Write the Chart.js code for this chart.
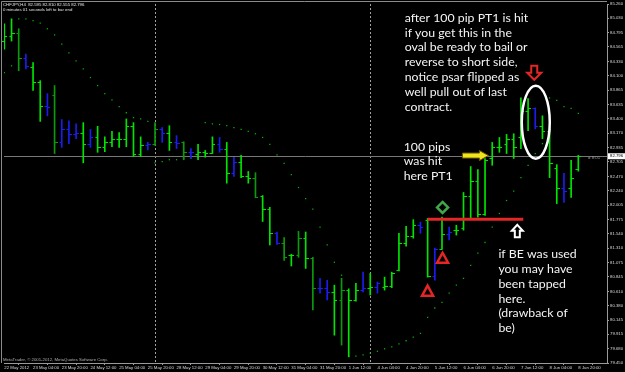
<!DOCTYPE html>
<html>
<head>
<meta charset="utf-8">
<script src="https://cdn.jsdelivr.net/npm/chart.js@4"></script>
<style>
  html, body { margin: 0; padding: 0; background: #000; }
  canvas { display: block; }
</style>
</head>
<body>
<canvas id="chart" width="625" height="372"></canvas>
<script>
// CHFJPY H4, one entry per bar, 22 May 2012 12:00 .. 8 Jun 2012 20:00
const opens = [
  84.66, 84.74, 84.79, 84.39, 84.24, 83.99, 83.61, 83.78, 83.02, 83.23,
  83.15, 83.18, 83.00, 83.10, 82.95, 83.02, 83.07, 83.08, 83.28, 82.84,
  82.97, 83.00, 83.24, 83.18, 83.02, 83.02, 82.87, 82.84, 82.86, 82.85,
  83.00, 82.92, 82.53, 82.71, 82.47, 82.44, 82.15, 81.95, 81.55, 81.40,
  81.19, 81.19, 81.47, 81.15, 80.66, 80.66, 80.60, 80.47, 80.63, 80.47,
  80.63, 80.66, 80.68, 80.68, 80.69, 80.95, 81.39, 81.50, 81.68, 81.76,
  80.85, 81.30, 81.53, 81.60, 81.63, 82.16, 82.40, 81.86, 82.76, 82.94,
  83.00, 83.08, 83.10, 83.53, 83.57, 83.28, 83.21, 82.60, 82.28, 82.28,
  82.595
];
const highs = [
  84.94, 85.02, 84.86, 84.45, 84.31, 84.02, 83.81, 83.94, 83.39, 83.37,
  83.32, 83.34, 83.23, 83.28, 83.11, 83.20, 83.18, 83.40, 83.34, 83.11,
  83.02, 83.34, 83.26, 83.29, 83.13, 83.03, 82.92, 82.99, 82.89, 83.11,
  83.10, 83.02, 82.78, 82.81, 82.55, 82.53, 82.16, 81.97, 81.57, 81.48,
  81.21, 81.58, 81.57, 81.16, 80.82, 80.79, 80.71, 80.82, 80.65, 80.74,
  80.92, 80.90, 80.76, 80.84, 80.92, 81.55, 81.66, 81.77, 81.73, 81.79,
  81.31, 81.81, 81.65, 81.68, 82.21, 82.63, 82.58, 82.76, 83.02, 83.10,
  83.15, 83.16, 83.74, 83.73, 83.58, 83.45, 83.26, 82.66, 82.52, 82.73,
  82.81
];
const lows = [
  84.53, 84.66, 84.18, 84.21, 83.86, 83.36, 83.45, 82.84, 82.94, 83.00,
  83.08, 82.69, 82.94, 82.86, 82.87, 82.95, 82.94, 82.95, 82.79, 82.79,
  82.90, 82.97, 83.02, 82.89, 82.92, 82.74, 82.76, 82.74, 82.78, 82.84,
  82.86, 82.36, 82.47, 82.45, 82.36, 82.13, 81.74, 81.36, 81.37, 81.11,
  81.02, 81.16, 80.98, 80.31, 80.58, 80.47, 79.90, 79.74, 79.55, 80.45,
  80.60, 80.55, 80.58, 80.63, 80.67, 80.94, 81.34, 81.47, 81.55, 80.84,
  80.79, 81.29, 81.44, 81.52, 81.60, 81.79, 81.81, 81.84, 82.65, 82.86,
  82.84, 82.76, 82.92, 83.21, 83.24, 83.08, 82.45, 82.03, 82.05, 82.13,
  82.555
];
const closes = [
  84.74, 84.79, 84.39, 84.26, 83.99, 83.61, 83.60, 83.02, 83.23, 83.15,
  83.18, 83.00, 83.10, 82.95, 83.02, 83.07, 83.08, 83.28, 82.84, 82.97,
  82.99, 83.24, 83.18, 83.02, 83.01, 82.87, 82.86, 82.86, 82.85, 83.00,
  82.92, 82.53, 82.71, 82.47, 82.45, 82.14, 81.95, 81.55, 81.40, 81.16,
  81.19, 81.47, 81.15, 80.66, 80.66, 80.60, 80.47, 80.63, 80.47, 80.63,
  80.66, 80.68, 80.74, 80.69, 80.90, 81.39, 81.50, 81.68, 81.65, 80.85,
  81.30, 81.53, 81.57, 81.60, 82.15, 82.40, 81.86, 82.74, 82.94, 82.94,
  83.08, 82.94, 83.53, 83.57, 83.28, 83.21, 82.69, 82.28, 82.24, 82.45,
  82.796
];
// parabolic SAR, one dot per bar
const psar = [
  84.15, 84.26, 85.02, 85.02, 84.99, 84.95, 84.86, 84.76, 84.61, 84.47,
  84.34, 84.21, 84.07, 83.94, 83.81, 83.71, 83.60, 83.50, 83.42, 83.40,
  83.36, 82.69, 82.71, 82.74, 82.74, 82.76, 82.76, 82.78, 83.34, 83.32,
  83.31, 83.29, 83.26, 83.23, 83.20, 83.16, 83.10, 82.99, 82.82, 82.68,
  82.50, 82.29, 82.11, 81.94, 81.65, 81.36, 81.08, 80.87, 79.56, 79.56,
  79.58, 79.61, 79.64, 79.68, 79.71, 79.76, 79.81, 79.87, 79.93, 80.19,
  80.34, 80.43, 80.58, 80.71, 80.82, 81.03, 81.23, 81.40, 81.65, 81.87,
  82.08, 82.23, 82.45, 82.65, 82.84, 83.00, 83.74, 83.70, 83.60, 83.57,
  83.49
];
const tickBars = [0, 4, 8, 12, 16, 20, 24, 28, 32, 36, 40, 44, 48, 52, 56, 60, 64, 68, 72, 76, 80];
const timeLabels = [
  '22 May 2012', '23 May 04:00', '23 May 20:00', '24 May 12:00', '25 May 04:00',
  '25 May 20:00', '28 May 12:00', '29 May 04:00', '29 May 20:00', '30 May 12:00',
  '31 May 04:00', '31 May 20:00', '1 Jun 12:00', '4 Jun 04:00', '4 Jun 20:00',
  '5 Jun 12:00', '6 Jun 04:00', '6 Jun 20:00', '7 Jun 12:00', '8 Jun 04:00', '8 Jun 20:00'
];
const priceTicks = [
  79.450, 79.680, 79.915, 80.145, 80.380, 80.610, 80.845, 81.075, 81.310,
  81.540, 81.775, 82.005, 82.240, 82.470, 82.705, 82.935, 83.170, 83.400,
  83.635, 83.865, 84.100, 84.330, 84.565, 84.795, 85.030, 85.260
];
const weekStarts = [21, 51];
const lastPrice = 82.796;

// bar colours as the terminal painted them
const blueBars = [3, 6, 8, 9, 10, 12, 20, 22, 24, 26, 30, 32, 38, 44, 45, 50, 52, 58, 60, 62, 74, 78];
const dimBars = [2, 7, 21, 25, 35, 39, 41, 43, 47];
const barColor = k => blueBars.includes(k) ? '#1c1cf0' : dimBars.includes(k) ? '#0b9a0b' : '#00e400';

const tiny = { family: 'Liberation Sans', size: 4.3 };

const ohlcTicks = {
  id: 'ohlcTicks',
  beforeDatasetsDraw(chart) {
    const { ctx, chartArea: a, scales: { x, y } } = chart;
    ctx.save();
    ctx.strokeStyle = '#a0a0a0';
    ctx.lineWidth = 1;
    ctx.setLineDash([2, 2]);
    weekStarts.forEach(k => {
      const px = Math.round(x.getPixelForValue(k)) + 0.5;
      ctx.beginPath(); ctx.moveTo(px, a.top); ctx.lineTo(px, a.bottom); ctx.stroke();
    });
    ctx.setLineDash([]);
    const py = Math.round(y.getPixelForValue(lastPrice)) + 0.5;
    ctx.strokeStyle = '#777';
    ctx.beginPath(); ctx.moveTo(a.left, py); ctx.lineTo(a.right, py); ctx.stroke();
    // chart frame
    ctx.strokeStyle = '#8a8a8a';
    ctx.beginPath(); ctx.moveTo(1.5, a.bottom); ctx.lineTo(1.5, 1.5); ctx.lineTo(a.right, 1.5); ctx.stroke();
    ctx.restore();
  },
  afterDatasetsDraw(chart) {
    const { ctx, scales: { x, y } } = chart;
    ctx.save();
    ctx.lineWidth = 1;
    opens.forEach((o, k) => {
      const px = Math.round(x.getPixelForValue(k));
      const yo = Math.round(y.getPixelForValue(o)) + 0.5;
      const yc = Math.round(y.getPixelForValue(closes[k])) + 0.5;
      ctx.strokeStyle = barColor(k);
      ctx.beginPath();
      ctx.moveTo(px - 2.5, yo); ctx.lineTo(px, yo);
      ctx.moveTo(px, yc); ctx.lineTo(px + 3, yc);
      ctx.stroke();
    });
    ctx.restore();
  }
};

// hand-drawn markup on the screenshot, anchored at (bar, price)
const notes = [
  { k: 55.8, p: 85.035, lines: ['after 100 pip PT1 is hit', 'if you get this in the', 'oval be ready to bail or',
      'reverse to short side,', 'notice psar flipped as', 'well pull out of last', 'contract.'] },
  { k: 55.66, p: 82.953, lines: ['100 pips', 'was hit', 'here PT1'] },
  { k: 68.86, p: 81.209, lines: ['if BE was used', 'you may have', 'been tapped', 'here.', '(drawback of', 'be)'] }
];

const markup = {
  id: 'markup',
  afterDatasetsDraw(chart) {
    const { ctx, scales: { x, y } } = chart;
    const P = (k, p) => [x.getPixelForValue(k), y.getPixelForValue(p)];
    ctx.save();
    ctx.fillStyle = '#f4f4f4';
    ctx.font = '12.3px Lato';
    ctx.textBaseline = 'middle';
    notes.forEach(n => {
      const [tx, ty] = P(n.k, n.p);
      n.lines.forEach((t, i) => ctx.fillText(t, tx, ty + i * 14.8));
    });

    // breakeven line
    ctx.strokeStyle = '#e42626';
    ctx.lineWidth = 3;
    let [x1, ly] = P(58.99, 81.775), [x2] = P(72.33, 81.775);
    ctx.beginPath(); ctx.moveTo(x1, ly); ctx.lineTo(x2, ly); ctx.stroke();

    // triangles
    ctx.lineWidth = 2.5;
    ctx.lineJoin = 'miter';
    [[61.08, 81.145], [58.99, 80.612]].forEach(([k, p]) => {
      const [cx, cy] = P(k, p);
      ctx.beginPath();
      ctx.moveTo(cx, cy - 5.5); ctx.lineTo(cx + 5.5, cy + 4.5); ctx.lineTo(cx - 5.5, cy + 4.5); ctx.closePath();
      ctx.stroke();
    });

    // diamond
    let [cx, cy] = P(61.08, 81.968);
    ctx.strokeStyle = '#3ea84a';
    ctx.beginPath();
    ctx.moveTo(cx, cy - 5.5); ctx.lineTo(cx + 5.5, cy); ctx.lineTo(cx, cy + 5.5); ctx.lineTo(cx - 5.5, cy); ctx.closePath();
    ctx.stroke();

    // white up arrow
    [cx, cy] = P(71.5, 81.581);
    ctx.strokeStyle = '#ffffff';
    ctx.lineWidth = 2;
    ctx.beginPath();
    ctx.moveTo(cx, cy - 6.5); ctx.lineTo(cx + 5.5, cy - 0.5); ctx.lineTo(cx + 2.5, cy - 0.5);
    ctx.lineTo(cx + 2.5, cy + 6); ctx.lineTo(cx - 2.5, cy + 6); ctx.lineTo(cx - 2.5, cy - 0.5);
    ctx.lineTo(cx - 5.5, cy - 0.5); ctx.closePath();
    ctx.stroke();

    // red down arrow
    [cx, cy] = P(73.86, 84.147);
    ctx.strokeStyle = '#e42626';
    ctx.beginPath();
    ctx.moveTo(cx - 3, cy - 7); ctx.lineTo(cx + 3, cy - 7); ctx.lineTo(cx + 3, cy);
    ctx.lineTo(cx + 7, cy); ctx.lineTo(cx, cy + 7); ctx.lineTo(cx - 7, cy); ctx.lineTo(cx - 3, cy); ctx.closePath();
    ctx.stroke();

    // yellow right arrow
    [cx, cy] = P(65.66, 82.807);
    ctx.fillStyle = '#f2e41a';
    ctx.strokeStyle = '#6f5a00';
    ctx.lineWidth = 1;
    ctx.beginPath();
    ctx.moveTo(cx - 13, cy - 2.5); ctx.lineTo(cx + 4, cy - 2.5); ctx.lineTo(cx + 4, cy - 5);
    ctx.lineTo(cx + 13, cy); ctx.lineTo(cx + 4, cy + 5); ctx.lineTo(cx + 4, cy + 2.5);
    ctx.lineTo(cx - 13, cy + 2.5); ctx.closePath();
    ctx.fill(); ctx.stroke();

    // oval
    [cx, cy] = P(74.07, 83.348);
    ctx.strokeStyle = '#ffffff';
    ctx.lineWidth = 2.5;
    ctx.beginPath(); ctx.ellipse(cx, cy, 14, 36.5, 0, 0, Math.PI * 2); ctx.stroke();
    ctx.restore();
  },
  afterDraw(chart) {
    const { ctx, chartArea: a, scales: { y } } = chart;
    ctx.save();
    ctx.font = `${tiny.size}px ${tiny.family}`;
    ctx.textBaseline = 'middle';
    ctx.fillStyle = '#e6e6e6';
    ctx.fillText('CHFJPY,H4  82.595 82.810 82.555 82.796', 3, 5);
    ctx.fillText('0 minutes 01 seconds left to bar end', 3, 9.5);
    ctx.fillStyle = '#b0b0b0';
    ctx.fillText('MetaTrader, \u00a9 2001-2012, MetaQuotes Software Corp.', 3, 360);
    const py = y.getPixelForValue(lastPrice);
    ctx.fillStyle = '#9a9a9a';
    ctx.fillText('= 8:01', a.right - 19, py + 2);
    ctx.fillStyle = '#ffffff';
    ctx.fillRect(a.right + 1, py - 3, 17, 6);
    ctx.fillStyle = '#000000';
    ctx.fillText(lastPrice.toFixed(3), a.right + 3, py);
    ctx.restore();
  }
};

const bars = lows.map((l, k) => ({ x: k, y: [l, highs[k]] }));
const dots = psar.map((v, k) => ({ x: k, y: v }));

new Chart(document.getElementById('chart'), {
  type: 'bar',
  data: {
    datasets: [{
      type: 'bar',
      data: bars,
      backgroundColor: bars.map((b, k) => barColor(k)),
      borderWidth: 0,
      barThickness: 1,
      grouped: false
    }, {
      type: 'scatter',
      data: dots,
      pointStyle: 'rect',
      pointRadius: 0.9,
      borderWidth: 0,
      backgroundColor: '#00b400'
    }]
  },
  options: {
    responsive: false,
    animation: false,
    events: [],
    layout: { padding: { top: 3, left: 2, right: 0, bottom: 0 } },
    plugins: { legend: { display: false }, tooltip: { enabled: false } },
    scales: {
      x: {
        type: 'linear',
        offset: false,
        min: -0.05,
        max: 84,
        afterBuildTicks: s => { s.ticks = tickBars.map(v => ({ value: v })); },
        afterFit: s => { s.height = 9; },
        ticks: {
          autoSkip: false,
          maxRotation: 0,
          align: 'start',
          padding: 0,
          color: '#d8d8d8',
          font: tiny,
          callback: v => timeLabels[tickBars.indexOf(v)]
        },
        grid: { drawOnChartArea: false, tickLength: 2, color: '#9a9a9a' },
        border: { color: '#9a9a9a' }
      },
      y: {
        position: 'right',
        min: 79.45,
        max: 85.26,
        afterBuildTicks: s => { s.ticks = priceTicks.map(v => ({ value: v })); },
        afterFit: s => { s.width = 18; },
        ticks: {
          padding: 1,
          color: '#d8d8d8',
          font: tiny,
          callback: v => v.toFixed(3)
        },
        grid: { drawOnChartArea: false, tickLength: 2, color: '#9a9a9a' },
        border: { color: '#9a9a9a' }
      }
    }
  },
  plugins: [ohlcTicks, markup]
});
</script>
</body>
</html>
